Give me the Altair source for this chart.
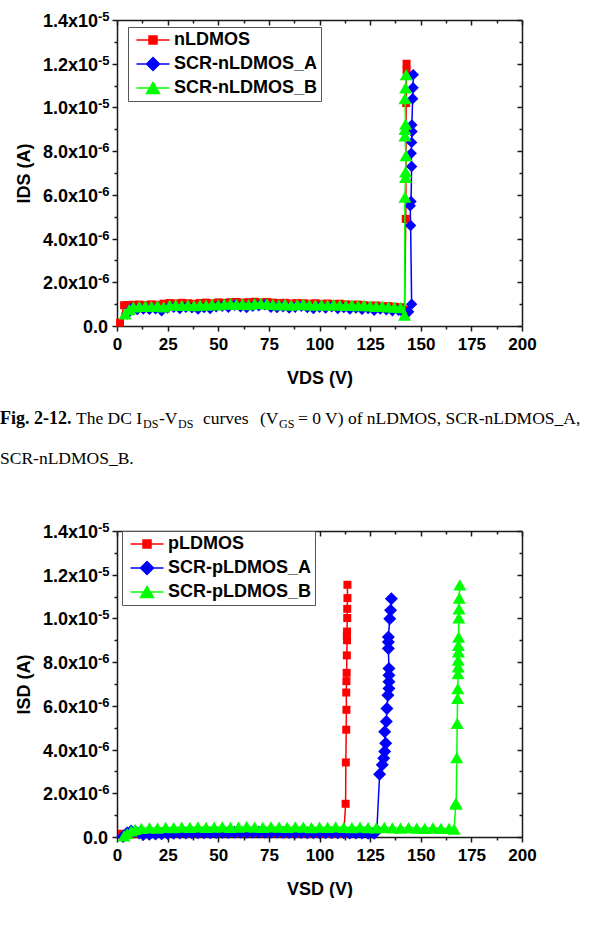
import altair as alt
import pandas as pd

# ---------------- shared axis values / labels ----------------
X_MAJOR = [0, 25, 50, 75, 100, 125, 150, 175, 200]
X_MINOR = [12.5, 37.5, 62.5, 87.5, 112.5, 137.5, 162.5, 187.5]
Y_MAJOR = [0.0, 2e-6, 4e-6, 6e-6, 8e-6, 1.0e-5, 1.2e-5, 1.4e-5]
Y_MINOR = [1e-6, 3e-6, 5e-6, 7e-6, 9e-6, 1.1e-5, 1.3e-5]
Y_MANTISSA = ["0.0", "2.0x10", "4.0x10", "6.0x10", "8.0x10", "1.0x10", "1.2x10", "1.4x10"]
Y_EXPONENT = ["", "-6", "-6", "-6", "-6", "-5", "-5", "-5"]

COLORS = ["#ff0000", "#0000ff", "#00ff00"]
SHAPES = ["square", "diamond", "triangle-up"]

# ---------------- Fig. 2-12 (n-type) : VDS [V], IDS [uA] ----------------
N_SERIES = ["nLDMOS", "SCR-nLDMOS_A", "SCR-nLDMOS_B"]

n_red_v = [1.5, 3.5, 5, 8, 11, 14, 17, 20, 23, 26, 29, 32, 35, 38, 41, 44, 47, 50, 53, 56,
           59, 62, 65, 68, 71, 74, 77, 80, 83, 86, 89, 92, 95, 98, 101, 104, 107, 110, 113,
           116, 119, 122, 125, 128, 131, 134, 137, 140, 142, 142.6, 142.8, 143.0, 143.0]
n_red_i = [0.15, 0.95, 0.96, 0.97, 0.98, 0.96, 0.99, 0.97, 1.02, 1.05, 1.03, 1.06, 1.04, 1.02,
           1.05, 1.07, 1.04, 1.08, 1.06, 1.09, 1.10, 1.07, 1.09, 1.11, 1.08, 1.10, 1.07, 1.05,
           1.06, 1.03, 1.05, 1.04, 1.02, 1.04, 1.01, 1.03, 1.00, 1.02, 0.99, 0.97, 0.98, 0.95,
           0.93, 0.94, 0.90, 0.91, 0.88, 0.86, 0.75, 4.9, 10.2, 11.7, 12.0]

n_blue_v = [5, 7, 10, 13, 16, 19, 22, 25, 28, 31, 34, 37, 40, 43, 46, 49, 52, 55, 58, 61, 64,
            67, 70, 73, 76, 79, 82, 85, 88, 91, 94, 97, 100, 103, 106, 109, 112, 115, 118, 121,
            124, 127, 130, 133, 136, 139, 142, 144,
            145.5, 145.0, 144.8, 145.2, 145.5, 145.3, 145.5, 145.7, 145.6, 146.0, 146.2, 146.3]
n_blue_i = [0.55, 0.80, 0.75, 0.78, 0.76, 0.79, 0.70, 0.82, 0.85, 0.80, 0.86, 0.83, 0.78, 0.84,
            0.80, 0.88, 0.90, 0.86, 0.95, 0.88, 0.84, 0.90, 0.92, 0.97, 0.86, 0.84, 0.88, 0.82,
            0.86, 0.90, 0.84, 0.80, 0.86, 0.82, 0.88, 0.80, 0.84, 0.78, 0.82, 0.76, 0.80, 0.72,
            0.78, 0.74, 0.70, 0.72, 0.55, 0.65,
            1.0, 4.6, 5.5, 5.7, 7.3, 7.9, 8.4, 8.9, 9.2, 10.4, 10.9, 11.5]

n_green_v = [4, 6, 8, 11, 14, 17, 20, 23, 26, 29, 32, 35, 38, 41, 44, 47, 50, 53, 56, 59, 62,
             65, 68, 71, 74, 77, 80, 83, 86, 89, 92, 95, 98, 101, 104, 107, 110, 113, 116, 119,
             122, 125, 128, 131, 134, 137, 140, 142,
             142.2, 142.5, 142.5, 142.7, 142.2, 142.2, 142.5, 142.2, 142.5, 142.8]
n_green_i = [0.55, 0.75, 0.88, 0.90, 0.92, 0.90, 0.93, 0.88, 0.95, 0.97, 0.94, 0.96, 0.93, 0.97,
             0.95, 0.99, 0.97, 1.00, 1.02, 0.99, 1.01, 0.98, 1.02, 1.04, 1.01, 0.99, 0.97, 1.00,
             0.96, 0.98, 1.01, 0.97, 0.96, 0.98, 0.95, 0.99, 0.96, 0.94, 0.97, 0.93, 0.95, 0.92,
             0.90, 0.91, 0.88, 0.86, 0.84, 0.50,
             5.9, 6.8, 7.05, 7.8, 8.7, 9.0, 9.24, 10.4, 10.9, 11.5]

# ---------------- Fig. (p-type) : VSD [V], ISD [uA] ----------------
P_SERIES = ["pLDMOS", "SCR-pLDMOS_A", "SCR-pLDMOS_B"]

p_red_v = [2.5, 5, 9, 13, 17, 21, 25, 29, 33, 37, 41, 45, 49, 53, 57, 61, 65, 69, 73, 77, 81,
           85, 89, 93, 97, 101, 105, 109, 112,
           112.9, 113.0, 113.2, 113.3, 113.2, 113.3, 113.4, 113.5, 113.6, 113.5, 113.6, 113.7,
           113.7, 113.8, 113.8]
p_red_i = [0.15, 0.12, 0.13, 0.14, 0.15, 0.15, 0.16, 0.16, 0.17, 0.17, 0.17, 0.18, 0.18, 0.18,
           0.18, 0.18, 0.18, 0.18, 0.18, 0.17, 0.17, 0.17, 0.17, 0.16, 0.16, 0.16, 0.15, 0.15,
           0.15,
           1.52, 3.41, 4.91, 5.82, 6.61, 7.13, 7.51, 8.31, 9.00, 9.22, 9.40, 10.02, 10.44, 10.93,
           11.54]

p_blue_v = [3, 5, 7, 9, 11, 13, 16, 19, 22, 25, 28, 31, 34, 37, 40, 43, 46, 49, 52, 55, 58, 61,
            64, 67, 70, 73, 76, 79, 82, 85, 88, 91, 94, 97, 100, 103, 106, 109, 112, 115, 118,
            121, 124, 127, 128.3,
            129.7, 131.0, 131.7, 132.2, 132.7, 132.2, 133.0, 133.3, 133.8, 134.3, 134.3, 134.3,
            134.3, 134.0, 134.0, 134.0, 134.7, 135.1, 135.5]
p_blue_i = [0.02, 0.18, 0.28, 0.25, 0.18, 0.12, 0.13, 0.14, 0.15, 0.16, 0.17, 0.18, 0.18, 0.19,
            0.19, 0.20, 0.20, 0.21, 0.21, 0.21, 0.22, 0.22, 0.22, 0.22, 0.22, 0.22, 0.22, 0.22,
            0.21, 0.21, 0.21, 0.21, 0.20, 0.20, 0.20, 0.20, 0.19, 0.19, 0.19, 0.18, 0.18, 0.18,
            0.17, 0.17, 0.30,
            2.87, 3.30, 3.60, 3.91, 4.29, 4.82, 5.28, 5.88, 6.49, 6.79, 7.10, 7.40, 7.71, 8.62,
            8.92, 9.15, 9.99, 10.37, 10.90]

p_green_v = [3.5, 5, 7, 9, 12, 16, 20, 24, 28, 32, 36, 40, 44, 48, 52, 56, 60, 64, 68, 72, 76,
             80, 84, 88, 92, 96, 100, 104, 108, 112, 116, 120, 124, 128, 132, 136, 140, 144, 148,
             152, 156, 160, 164, 166.5,
             167.3, 167.5, 167.8, 168.0, 168.2, 168.3, 168.4, 168.5, 168.5, 168.6, 168.6, 168.7,
             168.8, 168.9, 169.0, 169.3]
p_green_i = [0.05, 0.15, 0.28, 0.35, 0.40, 0.42, 0.41, 0.44, 0.43, 0.45, 0.44, 0.46, 0.44, 0.45,
             0.46, 0.44, 0.45, 0.47, 0.45, 0.44, 0.46, 0.45, 0.44, 0.46, 0.45, 0.43, 0.45, 0.44,
             0.46, 0.44, 0.43, 0.45, 0.43, 0.42, 0.44, 0.42, 0.41, 0.43, 0.41, 0.40, 0.42, 0.40,
             0.39, 0.36,
             1.55, 1.50, 3.63, 5.20, 6.34, 6.79, 7.48, 7.78, 8.09, 8.47, 8.77, 9.15, 10.02, 10.44,
             10.93, 11.54]

# ---------------- caption text ----------------
CAP_BOLD = "Fig. 2-12."
CAP_1 = "The DC I"
CAP_SUB_DS = "DS"
CAP_2 = "-V"
CAP_3A = "curves"
CAP_3B = "(V"
CAP_SUB_GS = "GS"
CAP_4 = "= 0 V) of nLDMOS, SCR-nLDMOS_A,"
CAP_LINE2 = "SCR-nLDMOS_B."

# ---------------- styling ----------------
SANS = "Liberation Sans"
SERIF = "Liberation Serif"
INK = "#1a1a1a"
W, H = 405, 306


def frame(names, vs, is_):
    rows = []
    for name, v, i in zip(names, vs, is_):
        for k, (a, b) in enumerate(zip(v, i)):
            rows.append({"series": name, "v": a, "i": b * 1e-6, "k": k})
    return pd.DataFrame(rows)


def make_axis(orient, values, tick, offset=None, domain=True, labels=False,
              title=None, tpad=None, lpad=None):
    kw = dict(orient=orient, values=values, tickSize=tick, tickWidth=1.5, tickColor=INK,
              domain=domain, domainColor=INK, domainWidth=1.5, grid=False, labels=labels,
              title=title)
    if offset is not None:
        kw["offset"] = offset
    if labels:
        kw.update(labelFont=SANS, labelFontSize=17, labelFontWeight="bold",
                  labelColor="black", labelPadding=lpad, format="d",
                  labelFlush=False, labelOverlap=False)
    if title:
        kw.update(titleFont=SANS, titleFontSize=18, titleFontWeight="bold",
                  titleColor="black", titlePadding=tpad)
    return alt.Axis(**kw)


def legend_paths():
    return [
        "M-3.3,0L3.3,0M-0.8,-0.8L0.8,-0.8L0.8,0.8L-0.8,0.8Z",
        "M-3.3,0L3.3,0M0,-1.3L1.3,0L0,1.3L-1.3,0Z",
        "M-3.3,0L3.3,0M0,-1.12L1.3,1.12L-1.3,1.12Z",
    ]


def text_layer(s, x, y, size, weight="normal", font=SERIF, align="left"):
    return alt.Chart(alt.Data(values=[{"t": s}])).mark_text(
        align=align, baseline="alphabetic", font=font, fontSize=size,
        fontWeight=weight, color="black"
    ).encode(x=alt.value(x), y=alt.value(y), text="t:N")


def panel(df, names, sizes, xtitle, ytitle, leg_x, leg_y, extra=()):
    xs = alt.Scale(domain=[0, 200], nice=False, zero=False)
    ys = alt.Scale(domain=[0, 1.4e-5], nice=False, zero=False)

    plan = [
        (make_axis("bottom", X_MAJOR, 5, labels=True, title=xtitle, tpad=17, lpad=5),
         make_axis("left", Y_MAJOR, 5, title=ytitle, tpad=78)),
        (make_axis("bottom", X_MAJOR, 5, offset=-H),
         make_axis("left", Y_MAJOR, 5, offset=-W)),
        (make_axis("bottom", X_MINOR, 3, domain=False),
         make_axis("left", Y_MINOR, 3, domain=False)),
        (make_axis("bottom", X_MINOR, 3, offset=-H, domain=False),
         make_axis("left", Y_MINOR, 3, offset=-W, domain=False)),
        (None, None),
        (None, None),
    ]

    layers = []
    k = 0
    for name, color, shp, sz in zip(names, COLORS, SHAPES, sizes):
        base = alt.Chart(df).transform_filter(alt.datum.series == name)
        xa, ya = plan[k]
        k += 1
        line = base.mark_line(color=color, strokeWidth=1.5).encode(
            x=alt.X("v:Q", scale=xs, axis=xa),
            y=alt.Y("i:Q", scale=ys, axis=ya),
            order="k:Q",
        )
        xa, ya = plan[k]
        k += 1
        pts = base.mark_point(filled=True, shape=shp, size=sz, color=color,
                              opacity=1, strokeWidth=0).encode(
            x=alt.X("v:Q", scale=xs, axis=xa),
            y=alt.Y("i:Q", scale=ys, axis=ya),
        )
        layers += [line, pts]

    # custom y tick labels (mantissa + superscript exponent)
    ylab = pd.DataFrame({"v": Y_MAJOR, "mant": Y_MANTISSA, "exp": Y_EXPONENT})
    ybase = alt.Chart(ylab)
    mant = ybase.transform_filter("datum.v > 0").mark_text(
        align="right", baseline="middle", font=SANS, fontSize=18, fontWeight="bold",
        color="black", dy=2).encode(x=alt.value(-19),
                                    y=alt.Y("v:Q", scale=ys, axis=None), text="mant:N")
    zero = ybase.transform_filter("datum.v == 0").mark_text(
        align="right", baseline="middle", font=SANS, fontSize=18, fontWeight="bold",
        color="black", dy=2).encode(x=alt.value(-9),
                                    y=alt.Y("v:Q", scale=ys, axis=None), text="mant:N")
    expo = ybase.transform_filter("datum.v > 0").mark_text(
        align="left", baseline="middle", font=SANS, fontSize=13, fontWeight="bold",
        color="black", dy=-3).encode(x=alt.value(-19),
                                     y=alt.Y("v:Q", scale=ys, axis=None), text="exp:N")

    leg = alt.Legend(orient="none", legendX=leg_x, legendY=leg_y, title=None,
                     labelFont=SANS, labelFontSize=18, labelFontWeight="bold",
                     labelColor="black", symbolSize=100, symbolStrokeWidth=1.5,
                     symbolOffset=12, labelOffset=12, padding=4, rowPadding=5,
                     strokeColor="#555555", fillColor="white", direction="vertical")
    legend_layer = alt.Chart(df).transform_filter("datum.i < 0").mark_point(
        filled=True, opacity=1).encode(
        fill=alt.Fill("series:N", scale=alt.Scale(domain=names, range=COLORS), legend=leg),
        stroke=alt.Stroke("series:N", scale=alt.Scale(domain=names, range=COLORS), legend=leg),
        shape=alt.Shape("series:N", scale=alt.Scale(domain=names, range=legend_paths()),
                        legend=leg),
    )

    return alt.layer(*layers, mant, zero, expo, legend_layer, *extra).resolve_axis(
        x="independent", y="independent").properties(width=W, height=H)


df_n = frame(N_SERIES, [n_red_v, n_blue_v, n_green_v], [n_red_i, n_blue_i, n_green_i])
df_p = frame(P_SERIES, [p_red_v, p_blue_v, p_green_v], [p_red_i, p_blue_i, p_green_i])

caption = [
    text_layer(CAP_BOLD, -117, 404, 18, weight="bold"),
    text_layer(CAP_1, -41, 404, 17.5),
    text_layer(CAP_SUB_DS, 26, 408, 12),
    text_layer(CAP_2, 42, 404, 17.5),
    text_layer(CAP_SUB_DS, 61, 408, 12),
    text_layer(CAP_3A, 86, 404, 17.5),
    text_layer(CAP_3B, 143, 404, 17.5),
    text_layer(CAP_SUB_GS, 162, 408, 12),
    text_layer(CAP_4, 181, 404, 17.5),
    text_layer(CAP_LINE2, -117, 444, 17.5),
]

top = panel(df_n, N_SERIES, [64, 130, 169], "VDS (V)", "IDS (A)", 11, 7, extra=caption)
bottom = panel(df_p, P_SERIES, [64, 169, 169], "VSD (V)", "ISD (A)", 5, 0)

chart = alt.vconcat(top, bottom, spacing=205, bounds="flush").resolve_scale(
    fill="independent", stroke="independent", shape="independent", color="independent"
).resolve_legend(
    fill="independent", stroke="independent", shape="independent", color="independent"
).properties(
    padding={"left": 0, "top": 11, "right": 0, "bottom": 0}
).configure_view(stroke=None)

chart.save("out.html", embed_options={"renderer": "svg", "actions": False})
